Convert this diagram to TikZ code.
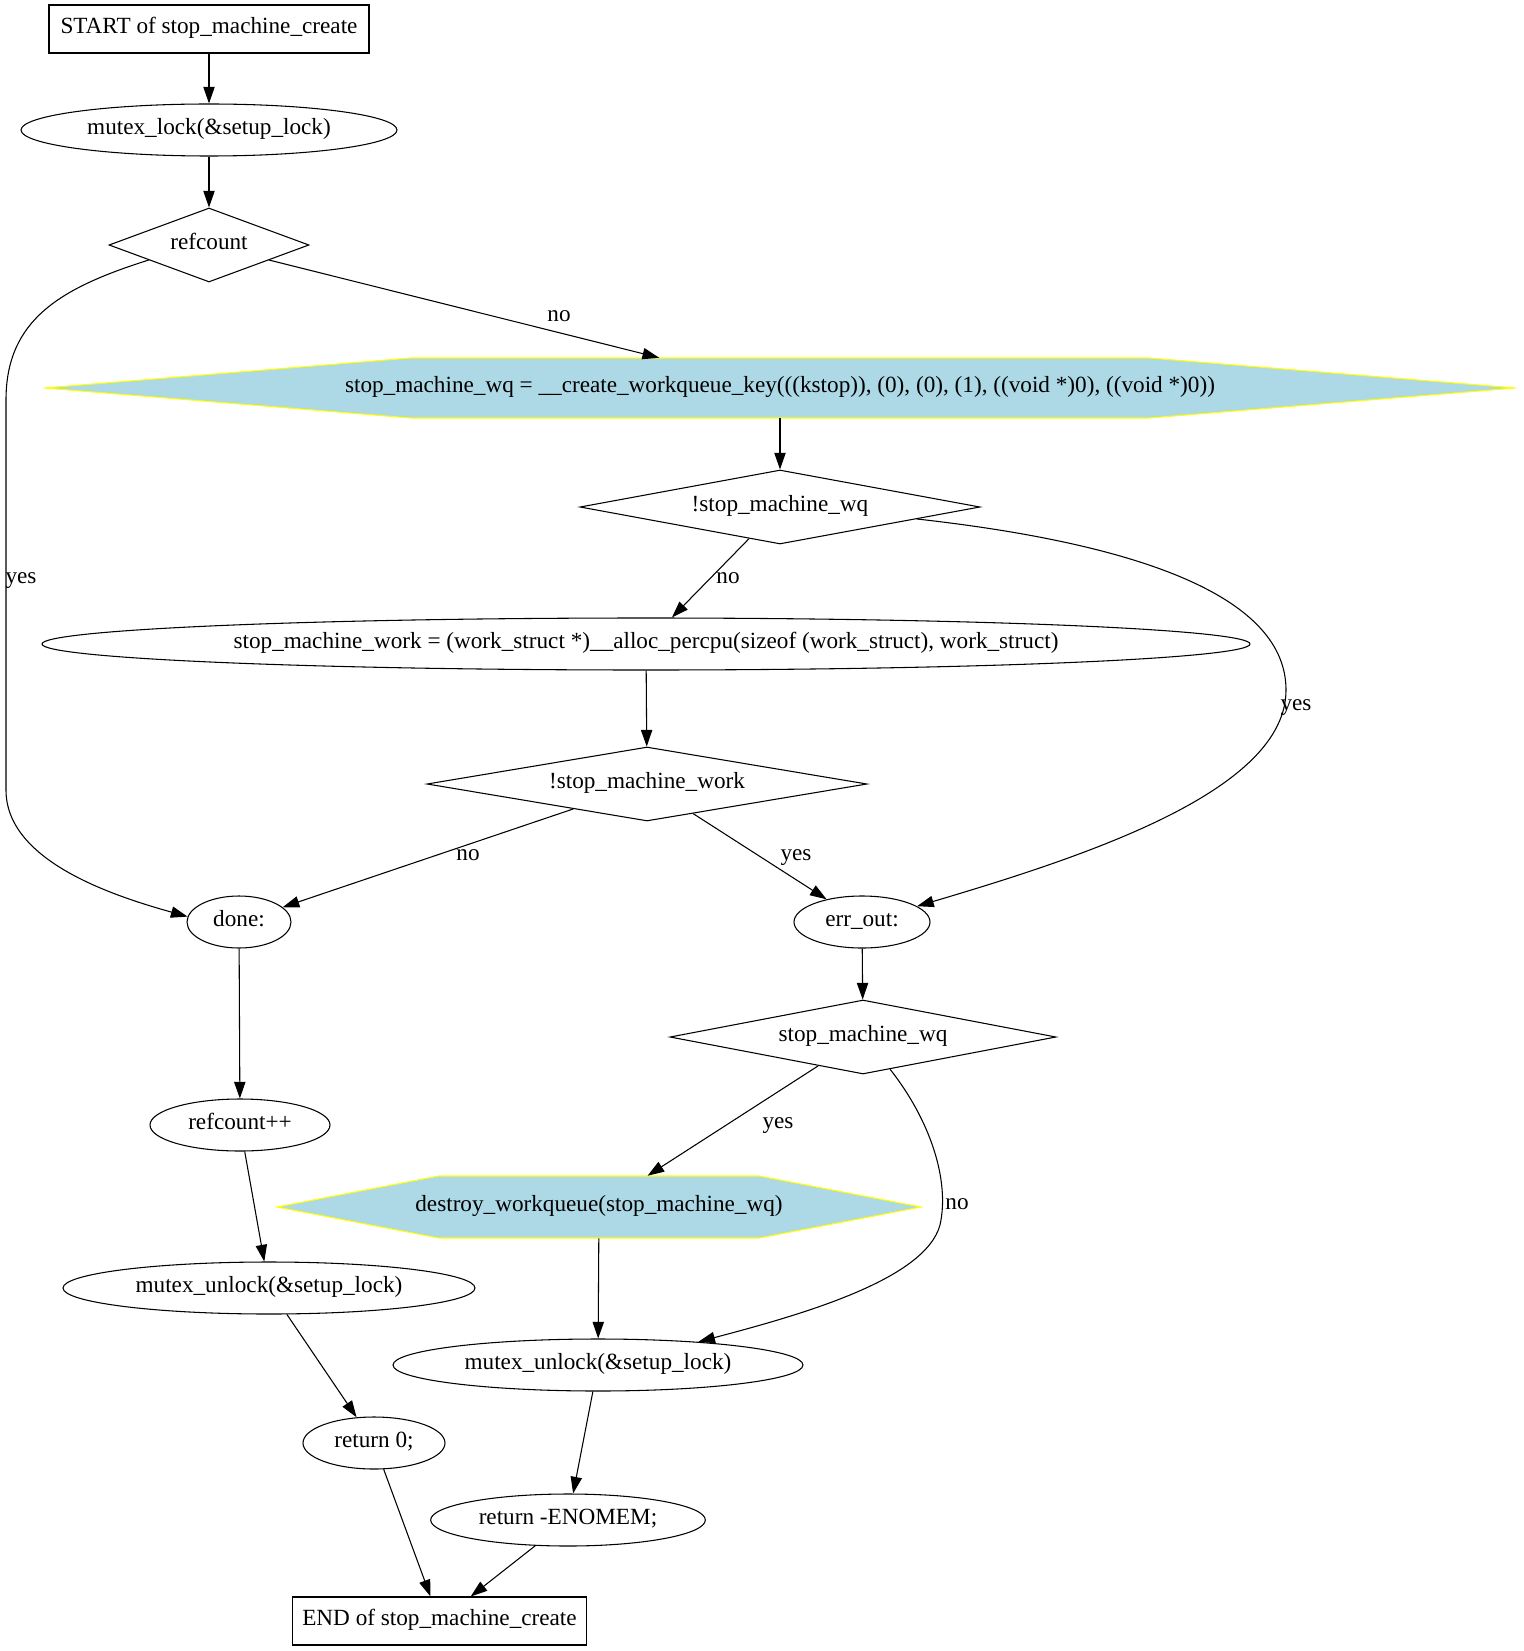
\documentclass[tikz,border=0pt]{standalone}
\usepackage{fontspec}
\setmainfont{Liberation Serif}
\usetikzlibrary{shapes.geometric,arrows.meta,backgrounds}
\begin{document}
\begin{tikzpicture}[x=0.75pt,y=-0.75pt,
  font=\fontsize{17.4}{20}\selectfont,
  every node/.style={inner sep=0pt, text height=11.5pt, text depth=5pt},
  box/.style={draw, rectangle, line width=0.8pt, minimum height=36pt},
  ell/.style={draw, ellipse, line width=0.8pt, minimum height=39pt},
  dia/.style={draw, diamond, line width=0.8pt, minimum height=55.5pt},
  hexnode/.style={rectangle},
  hexfill/.style={fill={rgb,255:red,173;green,216;blue,230}, draw={rgb,255:red,255;green,255;blue,0}, line width=0.8pt},
  arr/.style={line width=0.8pt, -{Triangle[length=12.5pt,width=8.5pt]}},
  lbl/.style={inner sep=0pt}]
\useasboundingbox (0,0) rectangle (1523,1651);

\node[box, minimum width=240pt] (start) at (209,29) {START of stop\_machine\_create};
\node[ell, minimum width=282pt] (ml) at (209,130) {mutex\_lock(\&setup\_lock)};
\node[dia, minimum width=150pt, shape aspect=2.7] (rc) at (209,245) {refcount};
\node[hexnode, minimum height=45pt] (h1) at (780,388) {stop\_machine\_wq = \_\_create\_workqueue\_key(((kstop)), (0), (0), (1), ((void *)0), ((void *)0))};
\node[dia, minimum width=300pt, shape aspect=5.4] (swq) at (780,507) {!stop\_machine\_wq};
\node[ell, minimum width=906pt] (smw) at (646,644) {stop\_machine\_work = (work\_struct *)\_\_alloc\_percpu(sizeof (work\_struct), work\_struct)};
\node[dia, minimum width=330pt, shape aspect=6] (ssmw) at (647,784) {!stop\_machine\_work};
\node[ell, minimum width=78pt] (done) at (239,922) {done:};
\node[ell, minimum width=102pt] (errout) at (862,922) {err\_out:};
\node[dia, minimum width=289.5pt, shape aspect=5.2] (swq2) at (863,1037) {stop\_machine\_wq};
\node[ell, minimum width=135pt] (rcpp) at (240,1125) {refcount++};
\node[hexnode, minimum height=46.5pt] (h2) at (599,1207) {destroy\_workqueue(stop\_machine\_wq)};
\node[ell, minimum width=309pt] (mu1) at (269,1288) {mutex\_unlock(\&setup\_lock)};
\node[ell, minimum width=307.5pt] (mu2) at (598,1365) {mutex\_unlock(\&setup\_lock)};
\node[ell, minimum width=106.5pt] (r0) at (374,1443) {return 0;};
\node[ell, minimum width=206pt] (rnm) at (568,1520) {return -ENOMEM;};
\node[box, minimum width=221pt] (end) at (439.5,1621) {END of stop\_machine\_create};

\begin{pgfonlayer}{background}
\filldraw[hexfill, shift={(h1.center)}] (-369,-30) -- (369,-30) -- (735.5,0) -- (369,30) -- (-369,30) -- (-735.5,0) -- cycle;
\filldraw[hexfill, shift={(h2.center)}] (-160,-31) -- (160,-31) -- (322,0) -- (160,31) -- (-160,31) -- (-322,0) -- cycle;
\end{pgfonlayer}

\node[lbl] (lno1) at (559,317) {no};
\node[lbl] (lyes1) at (21,579) {yes};
\node[lbl] (lno2) at (728,579) {no};
\node[lbl] (lyes2) at (1296,706) {yes};
\node[lbl] (lno3) at (468,856) {no};
\node[lbl] (lyes3) at (796,856) {yes};
\node[lbl] (lyes4) at (778,1124) {yes};
\node[lbl] (lno4) at (957,1205) {no};

\draw[arr] (start) -- (ml);
\draw[arr] (ml) -- (rc);
\draw[arr] (rc) -- (h1);
\draw[arr] (rc.194) .. controls (60,288) and (6,320) .. (6,400) -- (6,790) .. controls (6,860) and (110,895) .. (done.174);
\draw[arr] (h1) -- (swq);
\draw[arr] (swq) -- (smw);
\draw[arr] (swq.-5) .. controls (1150,545) and (1286,600) .. (1286,690) .. controls (1286,790) and (1090,855) .. (errout.16);
\draw[arr] (smw) -- (ssmw);
\draw[arr] (ssmw) -- (done);
\draw[arr] (ssmw) -- (errout);
\draw[arr] (errout) -- (swq2);
\draw[arr] (swq2) -- (h2);
\draw[arr] (swq2.-50) .. controls (930,1120) and (950,1180) .. (940,1225) .. controls (925,1280) and (800,1315) .. (mu2.13);
\draw[arr] (done) -- (rcpp);
\draw[arr] (rcpp) -- (mu1);
\draw[arr] (h2) -- (mu2);
\draw[arr] (mu1) -- (r0);
\draw[arr] (mu2) -- (rnm);
\draw[arr] (r0) -- (end);
\draw[arr] (rnm) -- (end);
\end{tikzpicture}
\end{document}
